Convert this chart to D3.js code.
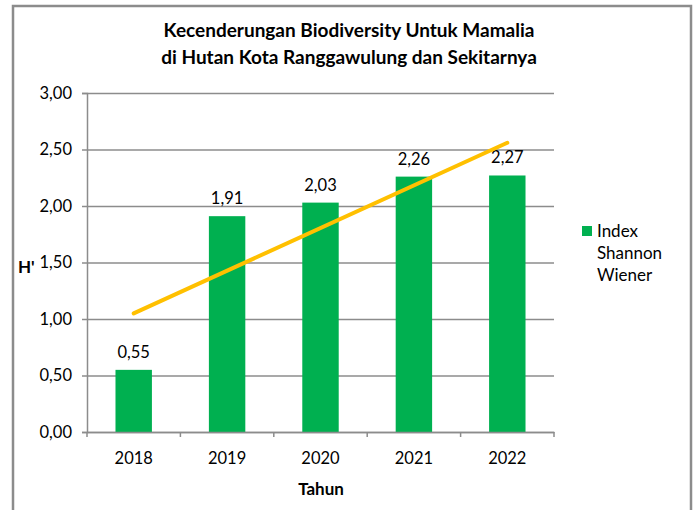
<!DOCTYPE html>
<html>
<head>
<meta charset="utf-8">
<script src="https://cdn.jsdelivr.net/npm/d3@7"></script>
<style>
  body { margin: 0; background: #fff; }
  text { font-family: Lato, "Open Sans", sans-serif; fill: #000; }
</style>
</head>
<body>
<svg></svg>
<script>
var years = ["2018", "2019", "2020", "2021", "2022"];
var indexValues = [0.55, 1.91, 2.03, 2.26, 2.27];
var trendEnds = [1.05, 2.56]; // trendline read at first and last year
var yTicks = [0, 0.5, 1, 1.5, 2, 2.5, 3];
var titleLines = ["Kecenderungan Biodiversity Untuk Mamalia", "di Hutan Kota Ranggawulung dan Sekitarnya"];
var legendLines = ["Index", "Shannon", "Wiener"];

var svgWidth = 698;
var svgHeight = 510;
var green = "#00b050";
var gold = "#ffc000";
var grey = "#8c8c8c";
var numSize = 16.5;

var svg = d3.select("svg")
    .attr("width", svgWidth)
    .attr("height", svgHeight);

// outer frame
svg.append("rect")
    .attr("x", 13).attr("y", 6)
    .attr("width", 678).attr("height", 520)
    .attr("fill", "none")
    .attr("stroke", grey)
    .attr("stroke-width", 2.5);

var plotLeft = 87, plotRight = 554, plotTop = 93, plotBottom = 432;

var x = d3.scaleBand().domain(years).range([plotLeft, plotRight]).paddingInner(0.61).paddingOuter(0.305);
var xOuter = d3.scaleBand().domain(years).range([plotLeft, plotRight]);
var y = d3.scaleLinear().domain([0, 3]).range([plotBottom, plotTop]);

var fmt = function(d) { return d3.format(".2f")(d).replace(".", ","); };

// grid lines + y labels
var yAxis = svg.append("g")
    .attr("transform", "translate(" + plotLeft + ",0)")
    .call(d3.axisLeft(y).tickValues(yTicks).tickSize(5).tickFormat(fmt));
yAxis.select(".domain").attr("stroke", grey).attr("stroke-width", 1.5);
yAxis.selectAll(".tick line").attr("stroke", grey).attr("stroke-width", 1.5)
    .attr("x1", -5).attr("x2", plotRight - plotLeft);
yAxis.selectAll(".tick text").attr("x", -15).attr("font-size", numSize).attr("fill", "#000")
    .style("font-family", "Lato, sans-serif");

// bars
svg.selectAll("rect.bar")
    .data(indexValues)
    .enter()
    .append("rect")
    .attr("class", "bar")
    .attr("x", function(d, i) { return x(years[i]); })
    .attr("y", function(d) { return y(d); })
    .attr("width", x.bandwidth())
    .attr("height", function(d) { return plotBottom - y(d); })
    .attr("fill", green);

// x axis
var xAxis = svg.append("g")
    .attr("transform", "translate(0," + plotBottom + ")")
    .call(d3.axisBottom(xOuter).tickSize(0).tickPadding(20));
xAxis.select(".domain").attr("stroke", grey).attr("stroke-width", 1.5);
xAxis.selectAll(".tick text").attr("font-size", numSize).attr("fill", "#000")
    .style("font-family", "Lato, sans-serif");
xAxis.selectAll("line.sep")
    .data(years.concat([""]))
    .enter()
    .append("line")
    .attr("class", "sep")
    .attr("x1", function(d, i) { return plotLeft + i * xOuter.step(); })
    .attr("x2", function(d, i) { return plotLeft + i * xOuter.step(); })
    .attr("y1", 0).attr("y2", 5)
    .attr("stroke", grey).attr("stroke-width", 1.5);

// value labels
svg.selectAll("text.val")
    .data(indexValues)
    .enter()
    .append("text")
    .attr("class", "val")
    .attr("x", function(d, i) { return x(years[i]) + x.bandwidth() / 2; })
    .attr("y", function(d) { return y(d) - 12; })
    .attr("text-anchor", "middle")
    .attr("font-size", numSize)
    .text(function(d) { return fmt(d); });

// trendline
var trendX = [years[0], years[years.length - 1]];
svg.append("line")
    .attr("x1", xOuter(trendX[0]) + xOuter.bandwidth() / 2)
    .attr("y1", y(trendEnds[0]))
    .attr("x2", xOuter(trendX[1]) + xOuter.bandwidth() / 2)
    .attr("y2", y(trendEnds[1]))
    .attr("stroke", gold)
    .attr("stroke-width", 4)
    .attr("stroke-linecap", "round");

// title
svg.selectAll("text.title")
    .data(titleLines)
    .enter()
    .append("text")
    .attr("class", "title")
    .attr("x", 349)
    .attr("y", function(d, i) { return 37 + i * 26.5; })
    .attr("text-anchor", "middle")
    .attr("font-size", 19)
    .attr("font-weight", "bold")
    .text(function(d) { return d; });

// axis titles
svg.append("text")
    .attr("x", 18).attr("y", 273)
    .attr("font-size", 17).attr("font-weight", "bold")
    .text("H'");
svg.append("text")
    .attr("x", 321).attr("y", 495)
    .attr("text-anchor", "middle")
    .attr("font-size", 17).attr("font-weight", "bold")
    .text("Tahun");

// legend
svg.append("rect")
    .attr("x", 582).attr("y", 226)
    .attr("width", 10).attr("height", 10)
    .attr("fill", green);
svg.selectAll("text.leg")
    .data(legendLines)
    .enter()
    .append("text")
    .attr("class", "leg")
    .attr("x", 597)
    .attr("y", function(d, i) { return 237 + i * 22; })
    .attr("font-size", 17)
    .text(function(d) { return d; });
</script>
</body>
</html>
